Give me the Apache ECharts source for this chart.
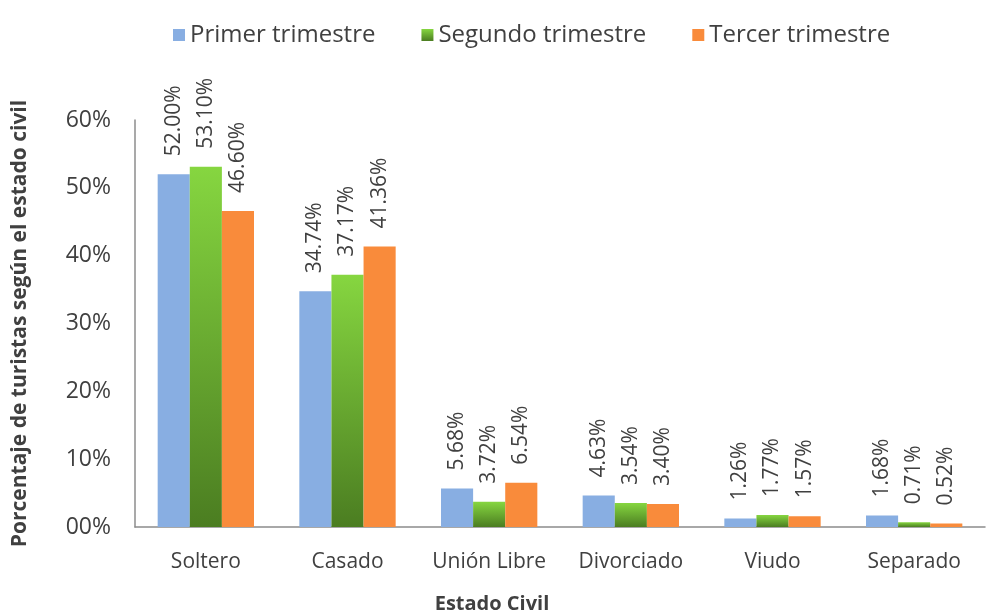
<!DOCTYPE html>
<html>
<head>
<meta charset="utf-8">
<script src="https://cdn.jsdelivr.net/npm/echarts@6/dist/echarts.min.js"></script>
<style>
  html, body { margin: 0; padding: 0; background: #fff; }
  #chart { width: 990px; height: 610px; }
</style>
</head>
<body>
<div id="chart"></div>
<script>
const categories = ['Soltero', 'Casado', 'Unión Libre', 'Divorciado', 'Viudo', 'Separado'];
const primer = [52.00, 34.74, 5.68, 4.63, 1.26, 1.68];
const segundo = [53.10, 37.17, 3.72, 3.54, 1.77, 0.71];
const tercer = [46.60, 41.36, 6.54, 3.40, 1.57, 0.52];
const seriesNames = ['Primer trimestre', 'Segundo trimestre', 'Tercer trimestre'];

const FONT = '"Open Sans", "Noto Sans", sans-serif';

const chart = echarts.init(document.getElementById('chart'));

// etiqueta vertical encima de cada barra
const barLabel = {
  show: true,
  position: 'top',
  rotate: 90,
  align: 'left',
  verticalAlign: 'middle',
  distance: 18,
  color: '#404040',
  fontSize: 21,
  fontFamily: FONT,
  formatter: (p) => p.value.toFixed(2) + '%',
};

const option = {
  animation: false,
  legend: {
    data: seriesNames,
    top: 18,
    left: 168,
    itemWidth: 12,
    itemHeight: 12,
    itemGap: 46,
    icon: 'rect',
    textStyle: { fontSize: 24, color: '#404040', fontFamily: FONT },
  },
  grid: {
    left: 135,
    right: 5,
    top: 120,
    bottom: 83,
    outerBoundsMode: 'none',
  },
  xAxis: {
    type: 'category',
    data: categories,
    name: 'Estado Civil',
    nameLocation: 'middle',
    nameGap: 67,
    nameTextStyle: {
      fontSize: 20,
      fontWeight: 'bold',
      color: '#404040',
      fontFamily: FONT,
      padding: [0, 136, 0, 0],
    },
    axisLine: { lineStyle: { color: '#8c8c8c', width: 1.5 } },
    axisTick: { show: false },
    axisLabel: { interval: 0, fontSize: 21, color: '#404040', margin: 25, fontFamily: FONT },
  },
  yAxis: {
    type: 'value',
    min: 0,
    max: 60,
    interval: 10,
    name: 'Porcentaje de turistas según el estado civil',
    nameLocation: 'middle',
    nameGap: 104,
    nameTextStyle: { fontSize: 21, fontWeight: 'bold', color: '#404040', fontFamily: FONT },
    axisLine: { show: true, lineStyle: { color: '#8c8c8c', width: 1.5 } },
    axisTick: { show: false },
    splitLine: { show: false },
    axisLabel: {
      fontSize: 23,
      color: '#404040',
      margin: 24,
      fontFamily: FONT,
      formatter: (v) => String(v).padStart(2, '0') + '%',
    },
  },
  series: [
    {
      name: seriesNames[0],
      type: 'bar',
      data: primer,
      barGap: '0%',
      barCategoryGap: '32%',
      itemStyle: { color: '#88aee2' },
      label: barLabel,
    },
    {
      name: seriesNames[1],
      type: 'bar',
      data: segundo,
      itemStyle: {
        color: new echarts.graphic.LinearGradient(0, 0, 0, 1, [
          { offset: 0, color: '#86d640' },
          { offset: 1, color: '#4b7d21' },
        ]),
      },
      label: barLabel,
    },
    {
      name: seriesNames[2],
      type: 'bar',
      data: tercer,
      itemStyle: { color: '#f98b3b' },
      label: barLabel,
    },
  ],
};

chart.setOption(option);
</script>
</body>
</html>
